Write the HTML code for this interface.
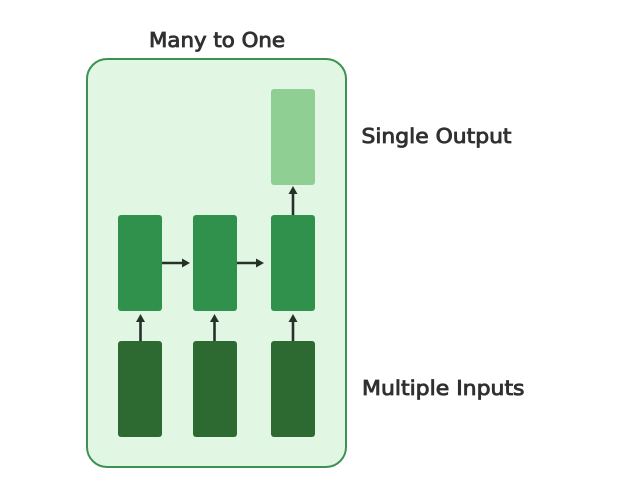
<!DOCTYPE html>
<html>
<head>
<meta charset="utf-8">
<style>
html,body{margin:0;padding:0;background:#fff;width:631px;height:500px;overflow:hidden}
svg{display:block}
text{font-family:"DejaVu Sans","Liberation Sans",sans-serif;font-size:20px;fill:#303030;stroke:#303030;stroke-width:.85px}
</style>
</head>
<body>
<svg width="631" height="500" viewBox="0 0 631 500" xmlns="http://www.w3.org/2000/svg">
<rect x="87" y="59" width="259" height="408" rx="20" fill="#e2f7e3" stroke="#3d9152" stroke-width="2"/>
<text x="149" y="47" textLength="136" lengthAdjust="spacingAndGlyphs">Many to One</text>
<text x="361.5" y="143" textLength="150" lengthAdjust="spacingAndGlyphs">Single Output</text>
<text x="362" y="395" textLength="162.500" lengthAdjust="spacingAndGlyphs">Multiple Inputs</text>

<rect x="271" y="89" width="44" height="96" rx="3" fill="#8fcf94"/>
<rect x="118" y="215" width="44" height="96" rx="3" fill="#2f914b"/>
<rect x="193" y="215" width="44" height="96" rx="3" fill="#2f914b"/>
<rect x="271" y="215" width="44" height="96" rx="3" fill="#2f914b"/>
<rect x="118" y="341" width="44" height="96" rx="3" fill="#2d6a31"/>
<rect x="193" y="341" width="44" height="96" rx="3" fill="#2d6a31"/>
<rect x="271" y="341" width="44" height="96" rx="3" fill="#2d6a31"/>

<g stroke="#263228" stroke-width="2.6" fill="none">
<path d="M293 215V192"/>
<path d="M162 263H184"/>
<path d="M237 263H258"/>
<path d="M140.500 341V319"/>
<path d="M214.500 341V319"/>
<path d="M293 341V319"/>
</g>
<g fill="#263228">
<polygon points="293,186 288.500,194 297.500,194"/>
<polygon points="190,263 182,258.500 182,267.500"/>
<polygon points="264,263 256,258.500 256,267.500"/>
<polygon points="140.500,314 136,322 145,322"/>
<polygon points="214.500,314 210,322 219,322"/>
<polygon points="293,314 288.500,322 297.500,322"/>
</g>
</svg>
</body>
</html>
